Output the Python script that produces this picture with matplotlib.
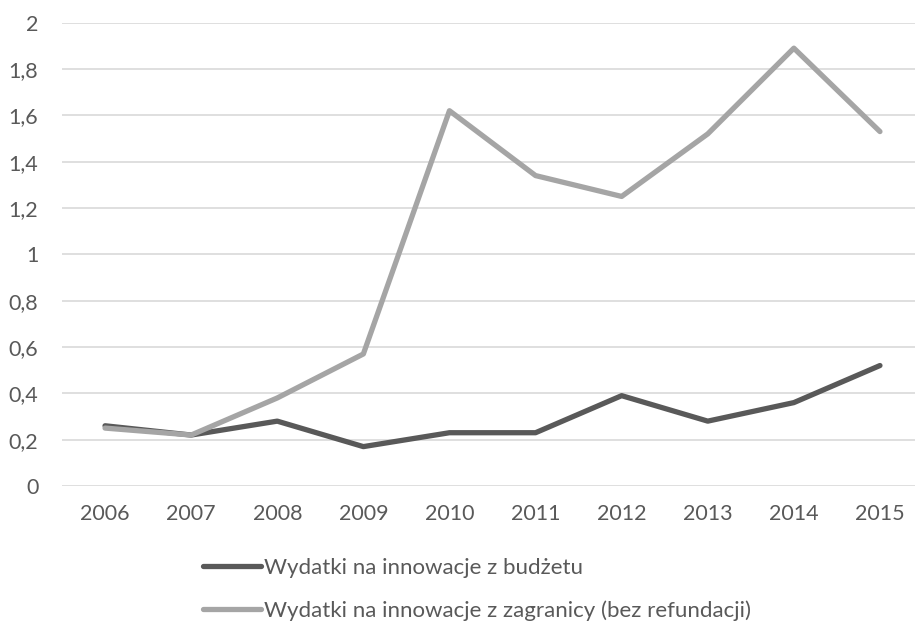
import matplotlib.pyplot as plt
from matplotlib.ticker import FuncFormatter

years = ['2006', '2007', '2008', '2009', '2010', '2011', '2012', '2013', '2014', '2015']
budzet = [0.26, 0.22, 0.28, 0.17, 0.23, 0.23, 0.39, 0.28, 0.36, 0.52]
zagranica = [0.25, 0.22, 0.38, 0.57, 1.62, 1.34, 1.25, 1.52, 1.89, 1.53]

label_budzet = 'Wydatki na innowacje z budżetu'
label_zagr = 'Wydatki na innowacje z zagranicy (bez refundacji)'

plt.rcParams['font.family'] = ['Lato', 'DejaVu Sans']
txt = '#595959'

fig = plt.figure(figsize=(9.15, 6.21), dpi=100)
ax = fig.add_axes([62/915, 1 - 486/621, 1 - 62/915, (486 - 22.7)/621])

x = list(range(len(years)))
l1, = ax.plot(x, budzet, color='#595959', linewidth=3.8, solid_capstyle='round', solid_joinstyle='round', zorder=3)
l2, = ax.plot(x, zagranica, color='#a5a5a5', linewidth=3.8, solid_capstyle='round', solid_joinstyle='round', zorder=3)

ax.set_ylim(0, 2)
ax.set_yticks([i * 0.2 for i in range(11)])
ax.yaxis.set_major_formatter(FuncFormatter(lambda v, p: ('%g' % round(v, 1)).replace('.', ',')))
ax.set_xlim(-0.5, 9.5 - 8/86)
ax.set_xticks(x)
ax.set_xticklabels(years)
ax.grid(axis='y', color='#d9d9d9', linewidth=1.2)
ax.set_axisbelow(True)
for s in ax.spines.values():
    s.set_visible(False)
ax.tick_params(length=0, labelsize=15.5, labelcolor=txt)
ax.tick_params(axis='y', pad=17)
ax.tick_params(axis='x', pad=13)

fig.legend([l1, l2], [label_budzet, label_zagr], loc='upper left',
           bbox_to_anchor=(194/915, 1 - 549/621), frameon=False, ncol=1,
           fontsize=16, labelcolor=txt, handlelength=2.6, handletextpad=0.15,
           labelspacing=1.0, borderaxespad=0)

fig.savefig('out.png', dpi=100)
